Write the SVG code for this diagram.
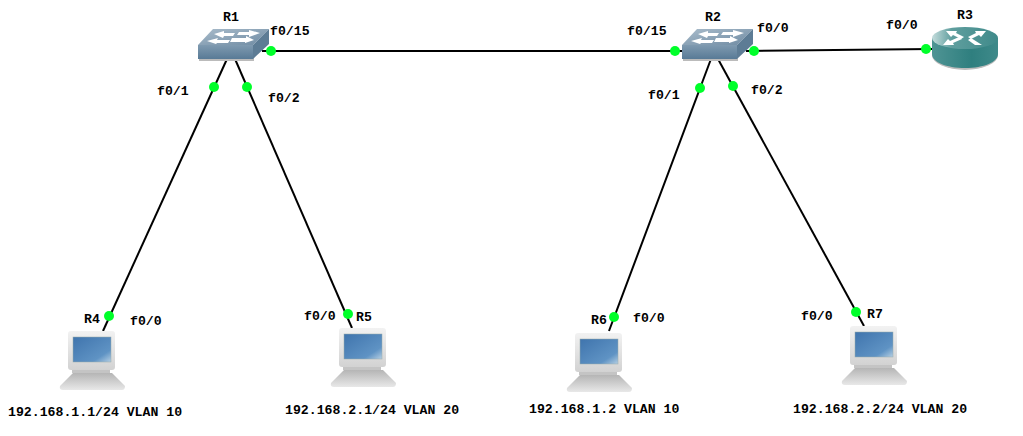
<svg xmlns="http://www.w3.org/2000/svg" width="1023" height="436" viewBox="0 0 1023 436">
<style>
text{font-family:"Liberation Mono","DejaVu Sans Mono",monospace;font-weight:bold;font-size:13.2px;fill:#000}
.l{stroke:#000;stroke-width:2;fill:none}
.d{fill:#00ff2a}
</style>
<defs>
<linearGradient id="st" x1="0" y1="0" x2="1" y2="1"><stop offset="0" stop-color="#a9bccb"/><stop offset="1" stop-color="#6f8ba3"/></linearGradient>
<linearGradient id="sf" x1="0" y1="0" x2="0" y2="1"><stop offset="0" stop-color="#7f9ab0"/><stop offset="1" stop-color="#587a96"/></linearGradient>
<linearGradient id="rt" x1="0" y1="0" x2="1" y2="0"><stop offset="0" stop-color="#c4dcdc"/><stop offset=".3" stop-color="#5f9e9e"/><stop offset="1" stop-color="#3f8a8a"/></linearGradient>
<linearGradient id="rs" x1="0" y1="0" x2="1" y2="0"><stop offset="0" stop-color="#4f9494"/><stop offset=".6" stop-color="#2f7f7f"/><stop offset="1" stop-color="#3f8a8a"/></linearGradient>
<linearGradient id="scr" x1="0" y1="0" x2="1" y2="1"><stop offset="0" stop-color="#3f74ad"/><stop offset=".75" stop-color="#5f93c4"/><stop offset="1" stop-color="#b5cfe3"/></linearGradient>
<linearGradient id="body" x1="0" y1="0" x2="0" y2="1"><stop offset="0" stop-color="#f2f2f2"/><stop offset="1" stop-color="#d2d2d2"/></linearGradient>
<linearGradient id="kb" x1="0" y1="0" x2="0" y2="1"><stop offset="0" stop-color="#b5b5b5"/><stop offset="1" stop-color="#e8e8e8"/></linearGradient>
<g id="sw">
<rect x="199" y="47" width="55" height="14" fill="#bbb"/>
<polygon points="198,45 213,29 269,29 253,45" fill="url(#st)"/>
<polygon points="253,45 269,29 269,44 253,59" fill="#5d7c95"/>
<rect x="198" y="45" width="55" height="14" fill="url(#sf)"/>
<g fill="#fff">
<polygon points="214,34 224,31 224,33 235,33 233,36 224,36 223,38"/>
<polygon points="239,32 249,32 249,30 260,33 249,37 249,35 237,35"/>
<polygon points="207,41 218,38 217,40 230,40 228,43 217,43 216,44"/>
<polygon points="232,38 246,38 246,36 254,40 245,43 245,42 230,42"/>
</g>
</g>
<g id="pc">
<rect x="68" y="331" width="47" height="39" rx="3" fill="url(#body)"/>
<rect x="73" y="337" width="38" height="25" fill="url(#scr)" stroke="#9aa" stroke-width=".5"/>
<rect x="72" y="370" width="38" height="3" fill="#c4c4c4"/>
<path d="M73 373H112L125 386Q125 390 122 390H63Q59 390 60 386Z" fill="url(#kb)"/>
</g>
</defs>
<g id="connectors">
<line class="l" x1="262" y1="51" x2="682" y2="51"/>
<line class="l" x1="746" y1="51" x2="932" y2="49"/>
<line class="l" x1="227" y1="59" x2="103" y2="331"/>
<line class="l" x1="235" y1="59" x2="352" y2="328"/>
<line class="l" x1="711" y1="59" x2="609" y2="331"/>
<line class="l" x1="718" y1="59" x2="864" y2="326"/>
<g class="d">
<circle cx="271" cy="51" r="5"/><circle cx="675" cy="51" r="5"/><circle cx="754" cy="51" r="5"/><circle cx="926" cy="49" r="5"/>
<circle cx="214" cy="87" r="5"/><circle cx="247" cy="87" r="5"/><circle cx="700" cy="88" r="5"/><circle cx="733" cy="86" r="5"/>
<circle cx="109" cy="316" r="5"/><circle cx="348" cy="314" r="5"/><circle cx="614" cy="317" r="5"/><circle cx="856" cy="312" r="5"/>
</g>
</g>
<g id="R1"><use href="#sw"/><text x="223" y="21">R1</text></g>
<g id="R2"><use href="#sw" x="484"/><text x="705" y="21">R2</text></g>
<g id="R3">
<ellipse cx="965" cy="55" rx="33" ry="15" fill="#bbb"/>
<path d="M932 38V54C932 62 946 68 965 68S998 62 998 54V38Z" fill="url(#rs)"/>
<ellipse cx="965" cy="38" rx="33" ry="11" fill="url(#rt)"/>
<g fill="#fff"><polygon points="946,31 957,31 956,33 964,37 961,39 953,35 951,37"/>
<polygon points="986,31 975,31 976,33 968,37 971,39 979,35 981,37"/>
<polygon points="943,45 954,45 953,43 962,39 959,37 950,41 948,39"/>
<polygon points="982,45 971,38 968,40 975,45"/></g>
<text x="957" y="19">R3</text>
</g>
<g id="R4"><use href="#pc"/><text x="84" y="323">R4</text></g>
<g id="R5"><use href="#pc" x="271" y="-3"/><text x="356" y="321">R5</text></g>
<g id="R6"><use href="#pc" x="507" y="2"/><text x="591" y="324">R6</text></g>
<g id="R7"><use href="#pc" x="782" y="-5"/><text x="867" y="318">R7</text></g>
<g id="labels">
<text x="270" y="35">f0/15</text><text x="157" y="95">f0/1</text><text x="268" y="102">f0/2</text>
<text x="627" y="35">f0/15</text><text x="757" y="32">f0/0</text><text x="648" y="99">f0/1</text><text x="751" y="94">f0/2</text>
<text x="886" y="29">f0/0</text><text x="130" y="325">f0/0</text><text x="304" y="320">f0/0</text><text x="633" y="322">f0/0</text><text x="801" y="320">f0/0</text>
<text x="8" y="416">192.168.1.1/24 VLAN 10</text><text x="285" y="414">192.168.2.1/24 VLAN 20</text>
<text x="529" y="413">192.168.1.2 VLAN 10</text><text x="793" y="413">192.168.2.2/24 VLAN 20</text>
</g>
</svg>
